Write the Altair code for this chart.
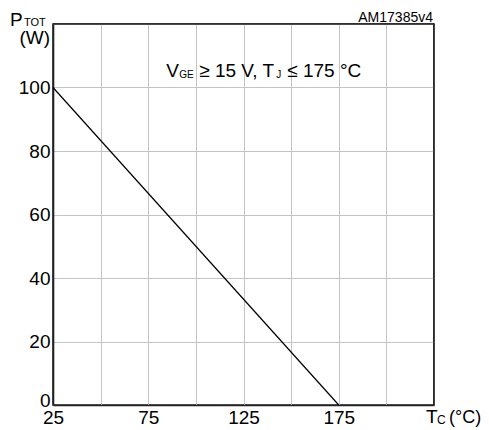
import altair as alt
import pandas as pd

# Data
temps = [25, 175]          # T_C (°C)
power = [100, 0]           # P_TOT (W)
x_grid = [25, 50, 75, 100, 125, 150, 175, 200, 225]
y_grid = [0, 10, 20, 30, 40, 50, 60, 70, 80, 90, 100, 110, 120]
x_labels = [25, 75, 125, 175]
y_labels = [0, 20, 40, 60, 80, 100]

FONT = "Liberation Sans"
FS = 19

xs = alt.Scale(domain=[25, 225], nice=False, zero=False)
ys = alt.Scale(domain=[0, 120], nice=False)

x_label_expr = "indexof([" + ",".join(str(v) for v in x_labels) + "], datum.value) >= 0 ? datum.label : ''"
y_label_expr = "indexof([" + ",".join(str(v) for v in y_labels) + "], datum.value) >= 0 ? datum.label : ''"

df = pd.DataFrame({"T": temps, "P": power})

line = alt.Chart(df).mark_line(color="black", strokeWidth=1.2).encode(
    x=alt.X("T:Q", scale=xs, axis=alt.Axis(
        values=x_grid, title=None, labelExpr=x_label_expr, ticks=False,
        labelPadding=3, labelFontSize=FS, labelFont=FONT, labelColor="black",
        grid=True, gridColor="#c4c4c4", gridWidth=1,
        domainColor="#222", domainWidth=1.6, labelFlush=False)),
    y=alt.Y("P:Q", scale=ys, axis=alt.Axis(
        values=y_grid, title=None, labelExpr=y_label_expr, ticks=False,
        labelPadding=3, labelFontSize=FS, labelFont=FONT, labelColor="black",
        grid=True, gridColor="#c4c4c4", gridWidth=1,
        domainColor="#222", domainWidth=1.6, labelFlush=False,
        labelOffset={"condition": {"test": "datum.value == 0", "value": -5}, "value": 0})),
)

# frame on top and right (upper ends of the scales)
frame_top = alt.Chart(pd.DataFrame({"y": [y_grid[-1]]})).mark_rule(
    color="#222", strokeWidth=1.6).encode(y=alt.Y("y:Q", scale=ys))
frame_right = alt.Chart(pd.DataFrame({"x": [x_grid[-1]]})).mark_rule(
    color="#222", strokeWidth=1.6).encode(x=alt.X("x:Q", scale=xs))


def txt(text, x, y, dx, dy, size, align="left"):
    d = pd.DataFrame({"x": [x], "y": [y], "t": [text]})
    return alt.Chart(d).mark_text(
        align=align, baseline="alphabetic", dx=dx, dy=dy,
        fontSize=size, font=FONT, color="black"
    ).encode(x=alt.X("x:Q", scale=xs), y=alt.Y("y:Q", scale=ys), text="t:N")


annots = [
    # y-axis title P_TOT (W)
    txt("P", 25, 120, -43, 1.5, FS),
    txt("TOT", 25, 120, -29, 2, 11),
    txt("(W)", 25, 120, -3, 20, FS, align="right"),
    # x-axis title T_C (°C)
    txt("T", 225, 0, -8, 18, FS),
    txt("C", 225, 0, 3, 19, 12),
    txt("(°C)", 225, 0, 15, 18, 18),
    # code
    txt("AM17385v4", 225, 120, -1, -2, 14, align="right"),
    # condition text
    txt("V", 75, 100, 18, -10.5, FS),
    txt("GE", 75, 100, 31, -9.5, 10),
    txt("≥ 15 V, T", 75, 100, 51, -10.5, FS),
    txt("J", 75, 100, 128, -9.5, 10),
    txt("≤ 175 °C", 75, 100, 139, -10.5, FS),
]

chart = alt.layer(line, frame_top, frame_right, *annots).properties(
    width=381, height=381,
    autosize=alt.AutoSizeParams(type="none"),
    padding={"left": 45, "top": 16, "right": 47, "bottom": 22},
    background="white",
).configure_view(stroke="#222", strokeWidth=1.6)

chart.save("out.html", embed_options={"renderer": "svg", "actions": False})
